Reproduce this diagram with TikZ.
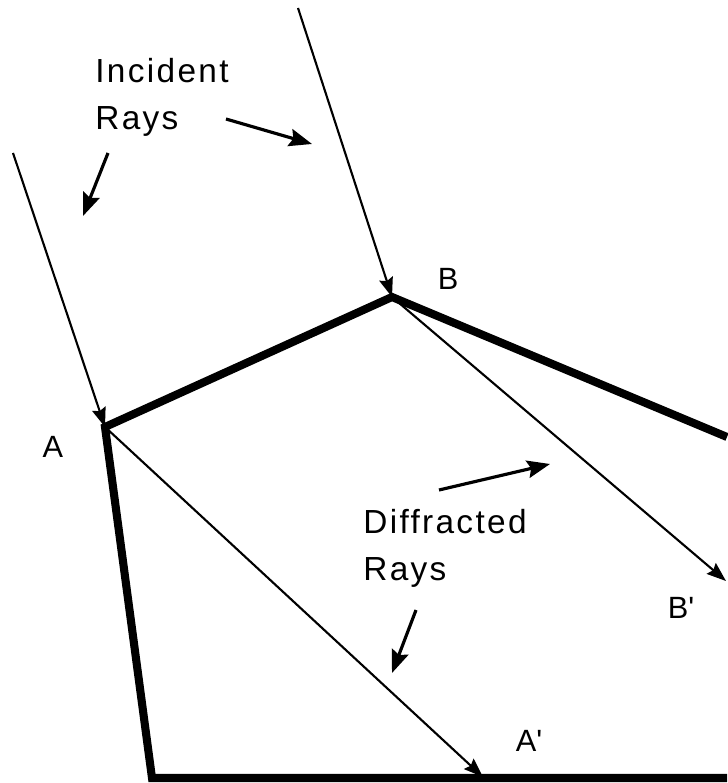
\documentclass[tikz,border=0pt]{standalone}
\usepackage{fontspec}
\setmainfont{Liberation Sans}
\usetikzlibrary{arrows.meta}

\tikzset{
  wall/.style={line width=4.6pt},
  ray/.style={line width=1.2pt,-{Stealth[length=11pt,width=8pt,inset=1.5pt]}},
  pointer/.style={line width=1.8pt,-{Stealth[length=13pt,width=10pt,inset=2pt]}},
  caption/.style={align=left,inner sep=0pt,anchor=north west,
    font=\fontsize{19}{26.6}\selectfont\addfontfeature{LetterSpace=7}},
  corner/.style={inner sep=0pt,font=\fontsize{17.5}{20}\selectfont},
}

\begin{document}
\begin{tikzpicture}[x=0.02cm,y=-0.02cm]
    \useasboundingbox (0,0) rectangle (727,783);

    % Edge points and ray ends
    \coordinate (A) at (105,427);
    \coordinate (B) at (392,297);
    \coordinate (inA) at (13,153);
    \coordinate (inB) at (298,8);
    \coordinate (outA) at (483,777);
    \coordinate (outB) at (726,581);
    \coordinate (wallR) at (727,437);
    \coordinate (floorL) at (152,778);
    \coordinate (floorR) at (727,778);

    % Wedge
    \draw[wall] (wallR) -- (B) -- (A) -- (floorL) -- (floorR);

    % Incident rays
    \draw[ray] (inA) -- (A);
    \draw[ray] (inB) -- (B);

    % Diffracted rays
    \draw[ray] (A) -- (outA);
    \draw[ray] (B) -- (outB);

    % Labels
    \node[corner] (labA) at (53,447) {A};
    \node[corner] (labB) at (448,279) {B};
    \node[corner] (labBp) at (681,608) {B\textquotesingle};
    \node[corner] (labAp) at (529,741) {A\textquotesingle};
    \node[caption] (incident) at (95,58) {Incident\\Rays};
    \node[caption] (diffracted) at (363,509) {Diffracted\\Rays};

    % Pointers
    \coordinate (p1) at (226,119);
    \coordinate (p1e) at (312,144);
    \coordinate (p2) at (108,153);
    \coordinate (p2e) at (83,216);
    \coordinate (p3) at (439,490);
    \coordinate (p3e) at (550,464);
    \coordinate (p4) at (416,610);
    \coordinate (p4e) at (392,673);
    \draw[pointer] (p1) -- (p1e);
    \draw[pointer] (p2) -- (p2e);
    \draw[pointer] (p3) -- (p3e);
    \draw[pointer] (p4) -- (p4e);
\end{tikzpicture}
\end{document}
